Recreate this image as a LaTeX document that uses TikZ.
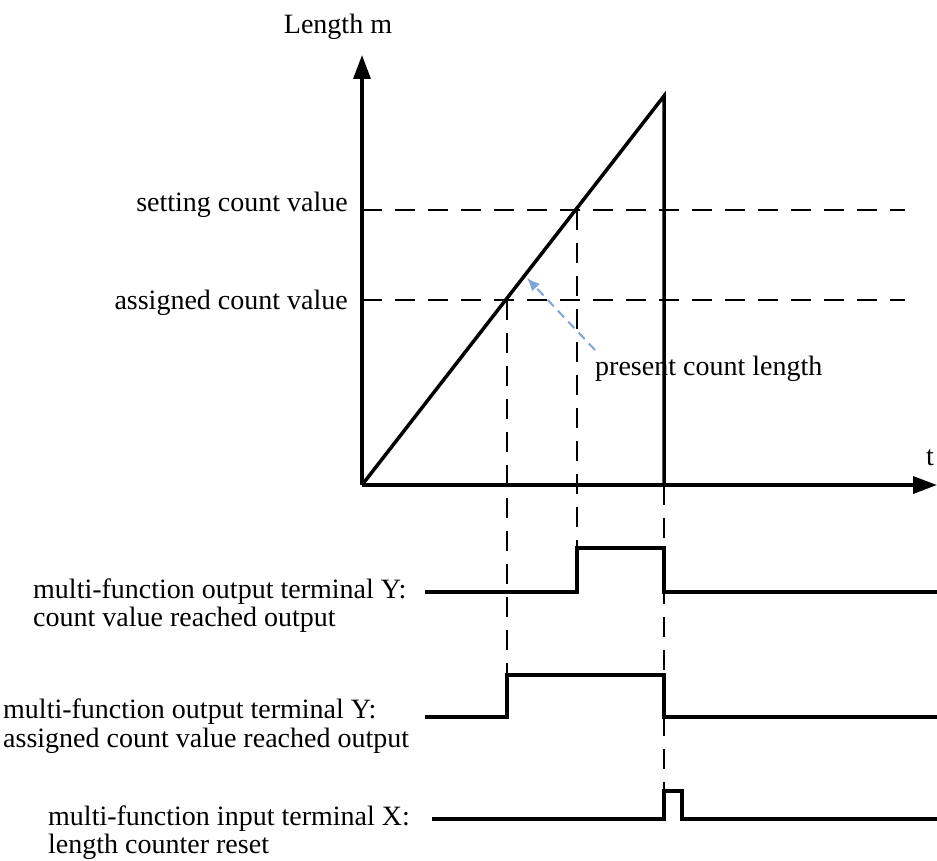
\documentclass[tikz,border=0pt]{standalone}
\usepackage{fontspec}
\setmainfont{Liberation Serif}
\usetikzlibrary{arrows.meta}
\definecolor{arrowblue}{HTML}{7EA6D8}
\begin{document}
\begin{tikzpicture}[x=1pt,y=-1pt,
  lbl/.style={inner sep=0pt, font=\fontsize{28}{30}\selectfont},
  thickline/.style={line width=3.5pt, line join=miter, line cap=butt},
  guide/.style={line width=1.3pt, dash pattern=on 20pt off 13pt},
  axisline/.style={line width=3.5pt, -{Triangle[length=24pt,width=17pt]}},
  hint/.style={line width=2pt, arrowblue, dash pattern=on 9pt off 6pt, -{Latex[length=13pt,width=11pt]}}
  ]
\useasboundingbox (0,0) rectangle (937,861);
\fill[white] (0,0) rectangle (937,861);
% coordinates
\coordinate (O) at (362,485);
\coordinate (Ytip) at (362,55);
\coordinate (Xtip) at (937,485);
\coordinate (P) at (664,96);
\coordinate (Pb) at (664,485);
\coordinate (S0) at (362,210);
\coordinate (S1) at (905,210);
\coordinate (A0) at (362,300);
\coordinate (A1) at (905,300);
\coordinate (SI) at (577,210);
\coordinate (AI) at (507,300);
% pulse 1
\coordinate (a1) at (425,592);
\coordinate (b1) at (577,592);
\coordinate (c1) at (577,548);
\coordinate (d1) at (664,548);
\coordinate (e1) at (664,592);
\coordinate (f1) at (937,592);
% pulse 2
\coordinate (a2) at (425,717);
\coordinate (b2) at (507,717);
\coordinate (c2) at (507,675);
\coordinate (d2) at (664,675);
\coordinate (e2) at (664,717);
\coordinate (f2) at (937,717);
% pulse 3
\coordinate (a3) at (432,819);
\coordinate (b3) at (664,819);
\coordinate (c3) at (664,791);
\coordinate (d3) at (682,791);
\coordinate (e3) at (682,819);
\coordinate (f3) at (937,819);
% blue hint arrow
\coordinate (h0) at (595,350);
\coordinate (h1) at (527,278);

% guides
\draw[guide] (S0) -- (S1);
\draw[guide] (A0) -- (A1);
\draw[guide] (SI) -- (c1);
\draw[guide] (AI) -- (c2);
\draw[guide] (Pb) -- (c3);

% axes
\draw[axisline] (O) -- (Ytip);
\draw[axisline] (O) -- (Xtip);

% ramp
\draw[thickline] (O) -- (P) -- (Pb);

% pulses
\draw[thickline] (a1) -- (b1) -- (c1) -- (d1) -- (e1) -- (f1);
\draw[thickline] (a2) -- (b2) -- (c2) -- (d2) -- (e2) -- (f2);
\draw[thickline] (a3) -- (b3) -- (c3) -- (d3) -- (e3) -- (f3);

% hint arrow
\draw[hint] (h0) -- (h1);

% labels
\node[lbl, anchor=base] (ylab) at (338,34) {Length m};
\node[lbl, anchor=base west] (tlab) at (926,465) {t};
\node[lbl, anchor=base east] (setlab) at (348,212) {setting count value};
\node[lbl, anchor=base east] (asglab) at (348,309) {assigned count value};
\node[lbl, anchor=base west] (preslab) at (595,375) {present count length};
\node[lbl, anchor=base west] (y1a) at (33,598) {multi-function output terminal Y:};
\node[lbl, anchor=base west] (y1b) at (33,626) {count value reached output};
\node[lbl, anchor=base west] (y2a) at (3,718) {multi-function output terminal Y:};
\node[lbl, anchor=base west] (y2b) at (3,747) {assigned count value reached output};
\node[lbl, anchor=base west] (x1a) at (48,825) {multi-function input terminal X:};
\node[lbl, anchor=base west] (x1b) at (48,853) {length counter reset};
\end{tikzpicture}
\end{document}
